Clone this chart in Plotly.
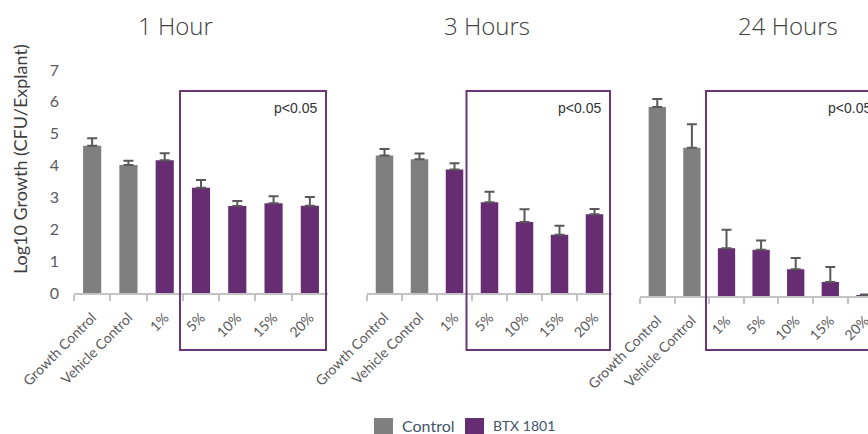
import plotly.graph_objects as go

# Treatment groups on every panel
categories = ["Growth Control", "Vehicle Control", "1%", "5%", "10%", "15%", "20%"]
control_groups = categories[:2]
btx_groups = categories[2:]

# Log10 growth (CFU/explant), mean and upper error per group
hour1_values = [4.62, 4.02, 4.17, 3.30, 2.73, 2.82, 2.74]
hour1_errors = [0.24, 0.13, 0.22, 0.25, 0.16, 0.22, 0.27]
hour3_values = [4.32, 4.20, 3.88, 2.85, 2.23, 1.83, 2.47]
hour3_errors = [0.20, 0.18, 0.19, 0.33, 0.40, 0.28, 0.17]
hour24_values = [5.93, 4.65, 1.50, 1.45, 0.84, 0.44, 0.02]
hour24_errors = [0.25, 0.74, 0.58, 0.29, 0.35, 0.47, 0.03]

panel_titles = ["1 Hour", "3 Hours", "24 Hours"]
y_ticks = [0, 1, 2, 3, 4, 5, 6, 7]
legend_names = ["Control", "BTX 1801"]

GRAY = "#7f7f7f"
PURPLE = "#672d72"
ERR = "#595959"
AXIS = "#c3c3c3"
W, H = 868, 434


def px_x(v):
    return v / W


def px_y(v):
    return 1 - v / H


fig = go.Figure()

panels = [
    ("x", "y", hour1_values, hour1_errors),
    ("x2", "y", hour3_values, hour3_errors),
    ("x3", "y3", hour24_values, hour24_errors),
]
for i, (xa, ya, vals, errs) in enumerate(panels):
    n_ctrl = len(control_groups)
    for name, cats, color, v, e in [
        (legend_names[0], control_groups, GRAY, vals[:n_ctrl], errs[:n_ctrl]),
        (legend_names[1], btx_groups, PURPLE, vals[n_ctrl:], errs[n_ctrl:]),
    ]:
        fig.add_trace(go.Bar(
            x=cats, y=v, name=name, marker_color=color, marker_line_width=0,
            xaxis=xa, yaxis=ya, legendgroup=name, showlegend=False,
            error_y=dict(type="data", array=e, arrayminus=[0] * len(e),
                         symmetric=False, color=ERR, thickness=2, width=5),
        ))

xcommon = dict(
    type="category", categoryorder="array", categoryarray=categories,
    showline=True, linecolor=AXIS, linewidth=2, ticks="outside",
    tickson="boundaries", ticklen=6, tickcolor=AXIS, tickwidth=2,
    tickangle=-45, showgrid=False, zeroline=False, automargin=False,
    ticklabelstandoff=9,
    tickfont=dict(family="Lato", size=14, color="#5a5a5a"),
)
ycommon = dict(range=[0, 7], showgrid=False, zeroline=False, showline=False,
               tickvals=y_ticks, fixedrange=True, automargin=False)

# Panel 3 reaches past the right edge of the page
p3_cat = 34.6
p3_right = -0.5 + (W - 640) / p3_cat

fig.update_layout(
    width=W, height=H,
    margin=dict(l=0, r=0, t=0, b=0, autoexpand=False),
    paper_bgcolor="white", plot_bgcolor="white",
    barmode="overlay", bargap=0.5,
    showlegend=False,
    xaxis=dict(**xcommon, domain=[px_x(74), px_x(328)], range=[-0.5, 6.5], anchor="y"),
    xaxis2=dict(**xcommon, domain=[px_x(367), px_x(612)], range=[-0.5, 6.5], anchor="y"),
    xaxis3=dict(**xcommon, domain=[px_x(640), 1], range=[-0.5, p3_right], anchor="y3"),
    yaxis=dict(**ycommon, domain=[px_y(293), px_y(70)], anchor="x",
               showticklabels=True, ticks="", ticklabelstandoff=14,
               tickfont=dict(family="Lato", size=16, color="#5a5a5a")),
    yaxis3=dict(**ycommon, domain=[px_y(296), px_y(73)], anchor="x3",
                showticklabels=False, ticks=""),
)

# Panel titles
for title, cx in zip(panel_titles, [175, 487, 788]):
    fig.add_annotation(text=title, x=px_x(cx), y=px_y(26), xref="paper", yref="paper",
                       showarrow=False, xanchor="center", yanchor="middle",
                       font=dict(family="Open Sans", size=24, color="#404040", weight=300))

# Y axis title
fig.add_annotation(text="Log10 Growth (CFU/Explant)", x=px_x(20), y=px_y(159),
                   xref="paper", yref="paper", showarrow=False, textangle=-90,
                   xanchor="center", yanchor="middle",
                   font=dict(family="Lato", size=18, color="#404040"))

# Significance boxes around the treated groups
boxes = [(180, 326), (466.5, 610), (706, 880)]
for x0, x1 in boxes:
    fig.add_shape(type="rect", xref="paper", yref="paper",
                  x0=px_x(x0), x1=px_x(x1), y0=px_y(350), y1=px_y(91),
                  line=dict(color="#6a3878", width=2), fillcolor="rgba(0,0,0,0)")
    fig.add_annotation(text="p<0.05", x=px_x(x1 - 7), y=px_y(108),
                       xref="paper", yref="paper", showarrow=False,
                       xanchor="right", yanchor="middle",
                       font=dict(family="Liberation Sans", size=14, color="#333333"))

# Legend along the bottom
for name, color, sq_x, fs in zip(legend_names, [GRAY, PURPLE], [374, 465], [16, 14]):
    fig.add_shape(type="rect", xref="paper", yref="paper",
                  x0=px_x(sq_x), x1=px_x(sq_x + 19), y0=px_y(436), y1=px_y(418),
                  line=dict(width=0), fillcolor=color)
    fig.add_annotation(text=name, x=px_x(sq_x + 26), y=px_y(425),
                       xref="paper", yref="paper", showarrow=False,
                       xanchor="left", yanchor="middle",
                       font=dict(family="Lato", size=fs, color="#44546a"))

fig.write_html("out.html")
